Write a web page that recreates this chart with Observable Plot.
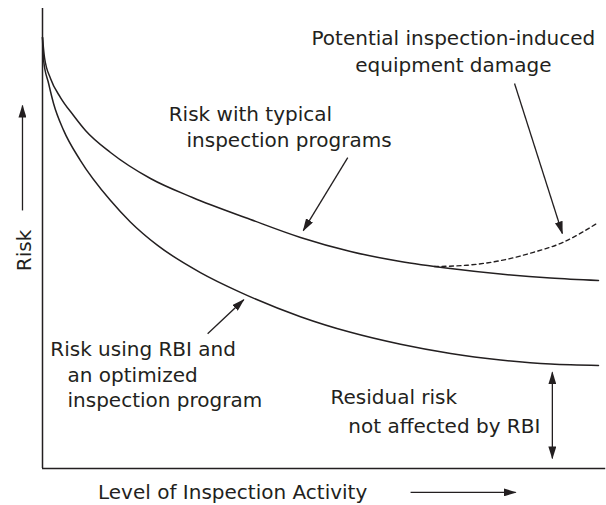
<!DOCTYPE html>
<html><head><meta charset="utf-8">
<script src="https://cdn.jsdelivr.net/npm/d3@7"></script>
<script src="https://cdn.jsdelivr.net/npm/@observablehq/plot@0.6"></script>
<style>body{margin:0;background:#fff} svg{display:block}</style>
</head><body><div id="chart"></div>
<script>
// Curve readings (x = level of inspection activity 0–100, y = risk 0–100)
const typicalLevel = [0, 0.36, 1.44, 3.24, 5.58, 7.73, 12.23, 19.42, 26.98, 37.41, 46.4, 55.4, 64.39, 73.38, 82.37, 91.37, 100];
const typicalRisk  = [93.7, 89.35, 84.78, 80.65, 76.74, 73.48, 68.7, 63.04, 58.91, 54.13, 50.22, 47.17, 45.0, 43.48, 42.28, 41.41, 40.87];
const rbiLevel = [0, 0.2, 1.1, 2.0, 3.8, 6.8, 12.2, 15.8, 20.7, 28.4, 35.6, 46.4, 55.4, 64.4, 73.4, 82.4, 91.4, 100];
const rbiRisk  = [93.7, 88.7, 83.7, 79.3, 73.5, 67.0, 58.3, 53.6, 48.5, 42.6, 38.3, 33.0, 29.6, 27.0, 25.0, 23.6, 22.7, 22.4];
const damageLevel = [70.5, 76.4, 82.4, 88.3, 93.5, 100];
const damageRisk  = [43.9, 44.2, 45.2, 47.0, 49.1, 53.5];

// Annotation texts
const labelTexts = ["Potential inspection-induced", "equipment damage", "Risk with typical", "inspection programs",
  "Risk using RBI and", "an optimized", "inspection program", "Residual risk", "not affected by RBI",
  "Level of Inspection Activity"];
const labelX = [73.9, 73.9, 22.7, 25.9, 1.4, 4.5, 4.5, 51.8, 55.0, 34.2];
const labelY = [93.4, 87.6, 77.0, 71.2, 25.9, 20.2, 14.8, 15.4, 9.2, -5.2];
const labelAnchor = ["middle", "middle", "start", "start", "start", "start", "start", "start", "start", "middle"];
const axisTitle = "Risk";

// Pointer arrows [x1, y1, x2, y2]
const arrowFrom = [[-3.6, 56.1], [66.2, -5.2], [54.9, 67.6], [29.7, 29.3], [84.9, 83.7]];
const arrowTo   = [[-3.6, 78.9], [85.1, -5.2], [46.9, 51.7], [36.2, 36.7], [93.5, 51.1]];
const residualArrow = {x: 91.7, from: 2.2, to: 20.9};

const ink = "#231f20";
const font = "'DejaVu Sans', Verdana, sans-serif";

const typical = typicalLevel.map((x, i) => ({x, y: typicalRisk[i]}));
const rbi = rbiLevel.map((x, i) => ({x, y: rbiRisk[i]}));
const damage = damageLevel.map((x, i) => ({x, y: damageRisk[i]}));
const labels = labelTexts.map((t, i) => ({t, x: labelX[i], y: labelY[i], a: labelAnchor[i]}));
const arrows = arrowFrom.map((f, i) => ({x1: f[0], y1: f[1], x2: arrowTo[i][0], y2: arrowTo[i][1]}));

function filledArrow(color) {
  const m = d3.create("svg:marker")
    .attr("viewBox", "-13 -4 13 8")
    .attr("markerWidth", 13).attr("markerHeight", 8)
    .attr("markerUnits", "userSpaceOnUse")
    .attr("orient", "auto-start-reverse")
    .attr("refX", -1).attr("refY", 0);
  m.append("path").attr("d", "M-13,-4L0,0L-13,4Z").attr("fill", color).attr("stroke", "none");
  return m.node();
}

function build(marker) {
  const anchors = ["start", "middle"];
  return Plot.plot({
    width: 606, height: 505,
    marginLeft: 42, marginRight: 8, marginTop: 8, marginBottom: 37,
    x: {domain: [0, 100], axis: null},
    y: {domain: [0, 100], axis: null},
    style: {background: "#fff", overflow: "visible", fontFamily: font},
    marks: [
      Plot.ruleX([0], {y1: 0, y2: 100, stroke: ink, strokeWidth: 1.5}),
      Plot.ruleY([0], {x1: 0, x2: 101.3, stroke: ink, strokeWidth: 1.5}),
      Plot.line(typical, {x: "x", y: "y", curve: "monotone-x", stroke: ink, strokeWidth: 1.5}),
      Plot.line(rbi, {x: "x", y: "y", curve: "monotone-x", stroke: ink, strokeWidth: 1.5}),
      Plot.line(damage, {x: "x", y: "y", curve: "monotone-x", stroke: ink, strokeWidth: 1.4, strokeDasharray: "4 3.5"}),
      Plot.link(arrows, {x1: "x1", y1: "y1", x2: "x2", y2: "y2", stroke: ink, strokeWidth: 1.3, markerEnd: marker}),
      Plot.link([residualArrow], {x1: "x", y1: "from", x2: "x", y2: "to", stroke: ink, strokeWidth: 1.3, markerStart: marker, markerEnd: marker}),
      ...anchors.map(a => Plot.text(labels.filter(d => d.a === a), {x: "x", y: "y", text: "t", textAnchor: a, lineAnchor: "middle", fontSize: 20, fill: ink})),
      Plot.text([axisTitle], {x: -3.2, y: 47.4, text: d => d, rotate: -90, lineAnchor: "middle", fontSize: 20, fill: ink})
    ]
  });
}

let chart;
try { chart = build(filledArrow); } catch (e) { chart = build("arrow"); }
document.getElementById("chart").appendChild(chart);
</script>
</body></html>
